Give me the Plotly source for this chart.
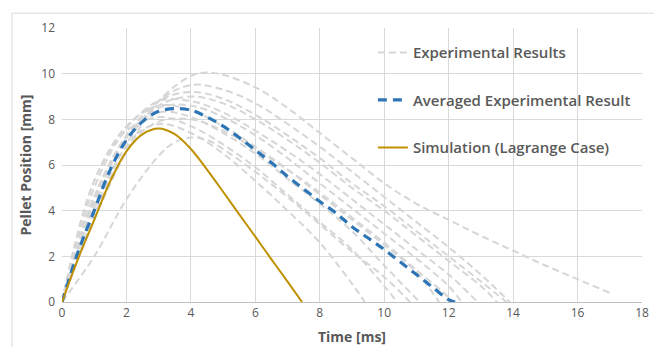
import plotly.graph_objects as go

# ---- data ----
exp_curves = [
    ([0, 1, 2, 3, 4, 4.5, 5, 6, 7, 8, 9, 10, 11, 12, 13, 14, 15, 16, 17],
     [0, 3.6, 6.6, 8.8, 9.9, 10.05, 9.95, 9.4, 8.5, 7.4, 6.3, 5.2, 4.3, 3.6, 2.9, 2.25, 1.6, 1.0, 0.4]),
    ([0, 1, 2, 3, 3.5, 4, 4.5, 5, 6, 7, 8, 9, 10, 10.8],
     [0, 2.0, 4.5, 6.4, 7.0, 7.2, 7.1, 6.7, 5.7, 4.6, 3.4, 2.2, 1.1, 0]),
    ([0, 1, 2, 3, 4, 5, 6, 7, 8, 9, 10, 11, 12, 13, 13.8],
     [0, 4.6, 7.3, 8.8, 9.2, 8.9, 8.2, 7.3, 6.3, 5.2, 4.2, 3.1, 2.0, 0.9, 0]),
    ([0, 1, 2, 3, 4, 5, 6, 7, 8, 9, 10, 11, 12, 13, 13.5],
     [0, 4.3, 7.2, 8.6, 9.0, 8.7, 8.0, 7.1, 6.1, 5.0, 4.0, 2.9, 1.8, 0.7, 0]),
    ([0, 1, 2, 3, 4, 5, 6, 7, 8, 9, 10, 11, 12, 12.9],
     [0, 5.0, 7.6, 8.8, 8.8, 8.3, 7.5, 6.6, 5.6, 4.5, 3.4, 2.3, 1.2, 0]),
    ([0, 1, 2, 3, 4, 5, 6, 7, 8, 9, 10, 11, 12, 12.4],
     [0, 4.4, 7.2, 8.5, 8.6, 8.1, 7.3, 6.3, 5.2, 4.1, 3.0, 1.9, 0.7, 0]),
    ([0, 1, 2, 3, 4, 5, 6, 7, 8, 9, 10, 11, 11.7],
     [0, 5.3, 7.7, 8.6, 8.4, 7.7, 6.8, 5.8, 4.7, 3.6, 2.5, 1.3, 0]),
    ([0, 1, 2, 3, 4, 5, 6, 7, 8, 9, 10, 11.1],
     [0, 4.6, 7.2, 8.3, 8.1, 7.4, 6.5, 5.4, 4.3, 3.1, 1.6, 0]),
    ([0, 1, 2, 3, 4, 5, 6, 7, 8, 9, 10, 10.4],
     [0, 5.3, 7.5, 8.1, 7.7, 6.9, 5.9, 4.7, 3.5, 2.3, 0.7, 0]),
    ([0, 1, 2, 3, 4, 5, 6, 7, 8, 9, 9.4],
     [0, 4.6, 7.0, 7.8, 7.4, 6.5, 5.3, 4.0, 2.6, 0.8, 0]),
    ([0, 1, 2, 3, 4, 5, 6, 7, 8, 9, 10, 11, 12, 13, 13.9],
     [0, 3.8, 6.9, 8.8, 9.5, 9.3, 8.7, 7.8, 6.8, 5.7, 4.6, 3.5, 2.4, 1.2, 0]),
    ([0, 1, 2, 3, 4, 5, 6, 7, 8, 9, 10, 11, 12, 12.1],
     [0, 4.1, 6.8, 7.9, 8.0, 7.5, 6.7, 5.8, 4.8, 3.7, 2.6, 1.4, 0.2, 0]),
]

avg_t = [0, 0.5, 1, 1.5, 2, 2.5, 3, 3.5, 4, 4.5, 5, 5.5, 6, 6.5, 7, 7.5, 8, 8.5, 9, 9.5, 10, 10.5, 11, 11.5, 12, 12.2]
avg_y = [0, 2.2, 4.0, 5.8, 7.1, 7.9, 8.35, 8.47, 8.4, 8.1, 7.7, 7.2, 6.65, 6.1, 5.5, 4.95, 4.4, 3.9, 3.3, 2.8, 2.3, 1.75, 1.2, 0.65, 0.1, 0]

sim_t = [0, 0.5, 1, 1.5, 2, 2.5, 3, 3.5, 4, 4.5, 5, 5.5, 6, 6.5, 7, 7.45]
sim_y = [0, 1.9, 3.6, 5.3, 6.6, 7.35, 7.6, 7.35, 6.7, 5.8, 4.83, 3.84, 2.86, 1.87, 0.89, 0]

x_ticks = [0, 2, 4, 6, 8, 10, 12, 14, 16, 18]
y_ticks = [0, 2, 4, 6, 8, 10, 12]

TXT = "#595959"
GRID = "#d9d9d9"

fig = go.Figure()
for i, (t, y) in enumerate(exp_curves):
    fig.add_trace(go.Scatter(
        x=t, y=y, mode="lines", line_shape="spline",
        line=dict(color="#d6d6d6", width=2, dash="7px,4px"),
        name="Experimental Results", legendgroup="exp",
        showlegend=(i == 0), hoverinfo="skip"))

fig.add_trace(go.Scatter(
    x=avg_t, y=avg_y, mode="lines", line_shape="spline",
    line=dict(color="#2e75b6", width=3.2, dash="9px,6px"),
    name="Averaged Experimental Result", legendgroup="avg"))

fig.add_trace(go.Scatter(
    x=sim_t, y=sim_y, mode="lines", line_shape="spline",
    line=dict(color="#bf9000", width=2),
    name="Simulation (Lagrange Case)", legendgroup="sim"))

# page body has an 8px default margin, so the figure is 8px smaller and margins offset
fig.update_layout(
    width=654, height=339,
    margin=dict(l=54, r=20, t=20, b=45, autoexpand=False),
    paper_bgcolor="white", plot_bgcolor="white",
    font=dict(family="Open Sans, sans-serif", color=TXT, size=12),
    showlegend=True,
    legend=dict(x=0.536, y=0.97, xanchor="left", yanchor="top",
                bgcolor="rgba(255,255,255,0)", tracegroupgap=25,
                font=dict(size=15, color=TXT, family="Open Sans, sans-serif", weight=600),
                traceorder="grouped"),
    shapes=[dict(type="rect", xref="paper", yref="paper",
                 x0=-0.0863, x1=1.03, y0=-0.3, y1=1.054,
                 line=dict(color="#d9d9d9", width=1), layer="below")],
)
fig.update_xaxes(range=[0, 18], tickvals=x_ticks, showgrid=True, gridcolor=GRID,
                 zeroline=False, showline=True, linecolor="#bfbfbf", automargin=False,
                 ticks="", tickfont=dict(size=12, color=TXT),
                 title=dict(text="<b>Time [ms]</b>", font=dict(size=14, color=TXT), standoff=11))
fig.update_yaxes(range=[0, 12], tickvals=y_ticks, showgrid=True, gridcolor=GRID,
                 zeroline=False, showline=False, automargin=False,
                 ticks="", tickfont=dict(size=12, color=TXT), ticklabelstandoff=6,
                 title=dict(text="<b>Pellet Position [mm]</b>", font=dict(size=14, color=TXT), standoff=6))

fig.write_html("out.html")
